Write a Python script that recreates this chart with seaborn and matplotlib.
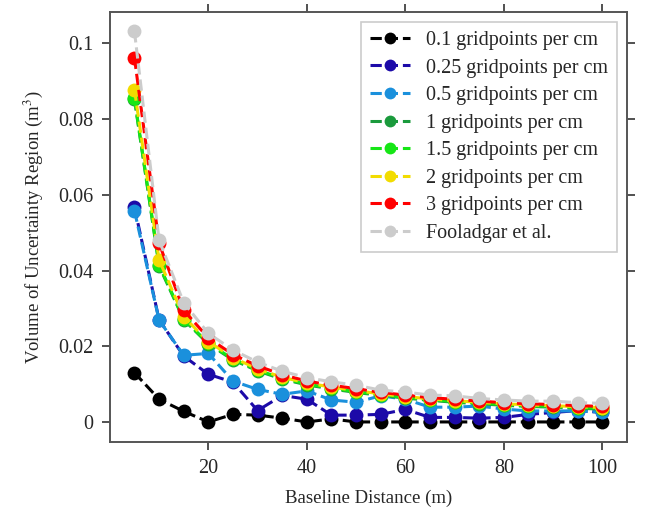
import pandas as pd
import matplotlib.pyplot as plt
import seaborn as sns

# baseline distances (m)
baseline = [5, 10, 15, 20, 25, 30, 35, 40, 45, 50, 55, 60, 65, 70, 75, 80, 85, 90, 95, 100]

# volume of uncertainty region (m^3) for each grid resolution
vol_01 = [0.0130, 0.0060, 0.0028, 0.0000, 0.0020, 0.0018, 0.0010, 0.0000, 0.0008, 0.0000,
          0.0000, 0.0000, 0.0000, 0.0000, 0.0000, 0.0000, 0.0000, 0.0000, 0.0000, 0.0000]
vol_025 = [0.0567, 0.0270, 0.0174, 0.0126, 0.0105, 0.0030, 0.0070, 0.0060, 0.0018, 0.0018,
           0.0020, 0.0033, 0.0012, 0.0012, 0.0010, 0.0012, 0.0020, 0.0025, 0.0030, 0.0025]
vol_05 = [0.0558, 0.0269, 0.0176, 0.0181, 0.0108, 0.0086, 0.0073, 0.0082, 0.0058, 0.0052,
          0.0069, 0.0060, 0.0039, 0.0039, 0.0042, 0.0034, 0.0029, 0.0029, 0.0029, 0.0026]
vol_1 = [0.0852, 0.0412, 0.0270, 0.0206, 0.0164, 0.0135, 0.0113, 0.0098, 0.0087, 0.0078,
         0.0070, 0.0063, 0.0057, 0.0052, 0.0048, 0.0044, 0.0041, 0.0039, 0.0036, 0.0034]
vol_15 = [0.0855, 0.0415, 0.0272, 0.0208, 0.0166, 0.0137, 0.0115, 0.0100, 0.0089, 0.0080,
          0.0072, 0.0065, 0.0059, 0.0054, 0.0050, 0.0046, 0.0043, 0.0041, 0.0038, 0.0036]
vol_2 = [0.0878, 0.0428, 0.0278, 0.0212, 0.0170, 0.0140, 0.0118, 0.0103, 0.0092, 0.0083,
         0.0074, 0.0067, 0.0061, 0.0056, 0.0052, 0.0048, 0.0045, 0.0043, 0.0040, 0.0038]
vol_3 = [0.0962, 0.0472, 0.0295, 0.0222, 0.0178, 0.0148, 0.0125, 0.0108, 0.0097, 0.0088,
         0.0078, 0.0071, 0.0064, 0.0060, 0.0055, 0.0051, 0.0048, 0.0046, 0.0043, 0.0041]
vol_fool = [0.1032, 0.0480, 0.0315, 0.0234, 0.0190, 0.0158, 0.0134, 0.0117, 0.0106, 0.0097,
            0.0084, 0.0079, 0.0071, 0.0069, 0.0062, 0.0058, 0.0055, 0.0055, 0.0051, 0.0049]

labels = ["0.1 gridpoints per cm", "0.25 gridpoints per cm", "0.5 gridpoints per cm",
          "1 gridpoints per cm", "1.5 gridpoints per cm", "2 gridpoints per cm",
          "3 gridpoints per cm", "Fooladgar et al."]
series = [vol_01, vol_025, vol_05, vol_1, vol_15, vol_2, vol_3, vol_fool]
colors = ["#000000", "#1c0aa8", "#1a90dc", "#1a9a3c", "#16e616", "#f2dc00", "#ff0000", "#cccccc"]

sns.set_style("ticks")
plt.rcParams["font.family"] = ["Liberation Serif", "DejaVu Serif"]
plt.rcParams["mathtext.fontset"] = "stix"

fig = plt.figure(figsize=(6.46, 5.12), dpi=100)
ax = fig.add_axes([0.170, 0.1367, 0.8006, 0.840])

for lab, vals, col in zip(labels, series, colors):
    df = pd.DataFrame({"x": baseline, "y": vals})
    sns.lineplot(data=df, x="x", y="y", ax=ax, color=col, label=lab,
                 marker="o", markersize=10, markeredgewidth=0, linestyle="--",
                 linewidth=2.2)

ax.set_xlim(0, 105)
ax.set_ylim(-0.0053, 0.1083)
ax.set_xticks([20, 40, 60, 80, 100])
ax.set_yticks([0, 0.02, 0.04, 0.06, 0.08, 0.1])
ax.set_yticklabels(["0", "0.02", "0.04", "0.06", "0.08", "0.1"])
ax.tick_params(axis="both", which="both", direction="out", length=6, width=1.2,
               labelsize=14.5, top=True, right=True, color="#333333", pad=6)
for sp in ax.spines.values():
    sp.set_color("#555555")
    sp.set_linewidth(1.4)

ax.set_xlabel("Baseline Distance (m)", fontsize=13.5, labelpad=9)
ax.set_ylabel("Volume of Uncertainty Region (m$^3$)", fontsize=13.5, labelpad=9)

leg = ax.legend(loc="upper right", fontsize=14.5, handlelength=2.0, labelspacing=0.42,
                fancybox=False, framealpha=1, borderpad=0.45, handletextpad=0.8,
                markerscale=0.85, borderaxespad=0, bbox_to_anchor=(0.981, 0.977))
leg.get_frame().set_edgecolor("#cccccc")
leg.get_frame().set_linewidth(1.2)

fig.savefig("out.png", dpi=100)
